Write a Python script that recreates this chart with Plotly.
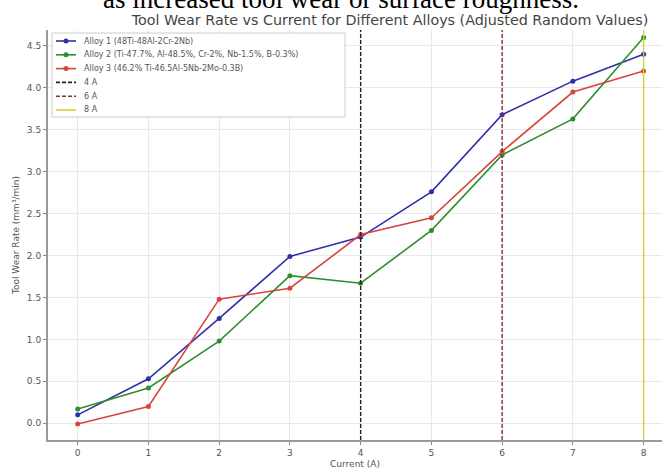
import plotly.graph_objects as go

current = [0, 1, 2, 3, 4, 5, 6, 7, 8]
alloy1 = [0.10, 0.53, 1.25, 1.99, 2.22, 2.76, 3.68, 4.08, 4.40]
alloy2 = [0.17, 0.42, 0.98, 1.76, 1.67, 2.30, 3.20, 3.63, 4.60]
alloy3 = [-0.01, 0.20, 1.48, 1.61, 2.25, 2.45, 3.24, 3.95, 4.20]
names = ["Alloy 1 (48Ti-48Al-2Cr-2Nb)",
         "Alloy 2 (Ti-47.7%, Al-48.5%, Cr-2%, Nb-1.5%, B-0.3%)",
         "Alloy 3 (46.2% Ti-46.5Al-5Nb-2Mo-0.3B)"]
colors = ["#2f2fa8", "#2f8f2f", "#d8453f"]
vline_x = [4, 6, 8]
vline_names = ["4 A", "6 A", "8 A"]
vline_colors = ["#222222", "#8a3038", "#d0d040"]
vline_dash = ["dash", "dash", "solid"]
yrange = [-0.2, 4.69]
xrange_ = [-0.42, 8.26]

# plot-area pixel geometry
L, T, B, W, H = 48, 30, 440, 614, 410


def px(x):
    return (x - L) / W


def py(y):
    return (B - y) / H


DASH = "4px,2px"

fig = go.Figure()
for ys, nm, c in zip([alloy1, alloy2, alloy3], names, colors):
    fig.add_trace(go.Scatter(x=current, y=ys, mode="lines+markers", name=nm,
                             line=dict(color=c, width=1.6),
                             marker=dict(color=c, size=5), showlegend=False))
for xv, nm, c, d in zip(vline_x, vline_names, vline_colors, vline_dash):
    fig.add_trace(go.Scatter(x=[xv, xv], y=yrange, mode="lines", name=nm,
                             line=dict(color=c, width=1.4, dash=DASH if d == "dash" else "solid"),
                             showlegend=False))

# manual legend (compact like the reference)
fig.add_shape(type="rect", xref="paper", yref="paper",
              x0=px(52), x1=px(345), y0=py(117), y1=py(33),
              fillcolor="white", line=dict(color="#cccccc", width=1), layer="above")
entries = list(zip(names, colors, ["solid"] * 3, [True] * 3)) + \
    list(zip(vline_names, vline_colors, vline_dash, [False] * 3))
for i, (nm, c, d, mk) in enumerate(entries):
    yy = 41 + i * 13.8
    fig.add_shape(type="line", xref="paper", yref="paper",
                  x0=px(56), x1=px(76), y0=py(yy), y1=py(yy),
                  line=dict(color=c, width=1.6, dash=DASH if d == "dash" else "solid"),
                  layer="above")
    if mk:
        fig.add_shape(type="circle", xref="paper", yref="paper",
                      x0=px(63.5), x1=px(68.5), y0=py(yy + 2.5), y1=py(yy - 2.5),
                      fillcolor=c, line=dict(color=c, width=0), layer="above")
    fig.add_annotation(text=nm, xref="paper", yref="paper", x=px(82), y=py(yy),
                       xanchor="left", yanchor="middle", showarrow=False,
                       font=dict(size=8, color="#555555"))

fig.update_layout(
    width=662, height=473,
    margin=dict(l=L, r=0, t=T, b=473 - B),
    plot_bgcolor="white", paper_bgcolor="white",
    font=dict(family="DejaVu Sans", color="#555555", size=9),
    title=dict(text="Tool Wear Rate vs Current for Different Alloys (Adjusted Random Values)",
               x=390 / 662, xanchor="center", y=1 - 19.5 / 473, yanchor="middle",
               font=dict(size=14.3, color="#444444")),
    showlegend=False,
)
fig.update_xaxes(range=xrange_, tickvals=current, ticks="outside", ticklen=3,
                 tickcolor="#888888", showline=True, linecolor="#999999", linewidth=2,
                 showgrid=True, gridcolor="#e8e8e8", zeroline=False,
                 title=dict(text="Current (A)", font=dict(size=9), standoff=4))
fig.update_yaxes(range=yrange, tickvals=[0, 0.5, 1, 1.5, 2, 2.5, 3, 3.5, 4, 4.5],
                 ticktext=["0.0", "0.5", "1.0", "1.5", "2.0", "2.5", "3.0", "3.5", "4.0", "4.5"],
                 ticks="outside", ticklen=3, tickcolor="#888888",
                 showline=True, linecolor="#999999", linewidth=2,
                 showgrid=True, gridcolor="#e8e8e8", zeroline=False,
                 title=dict(text="Tool Wear Rate (mm³/min)", font=dict(size=9), standoff=6))
fig.add_annotation(text="as increased tool wear or surface roughness.",
                   xref="paper", yref="paper", x=px(341), y=1.076, xanchor="center", yanchor="middle",
                   showarrow=False, font=dict(family="Liberation Serif", size=27, color="#000000"))
fig.write_html("out.html")
